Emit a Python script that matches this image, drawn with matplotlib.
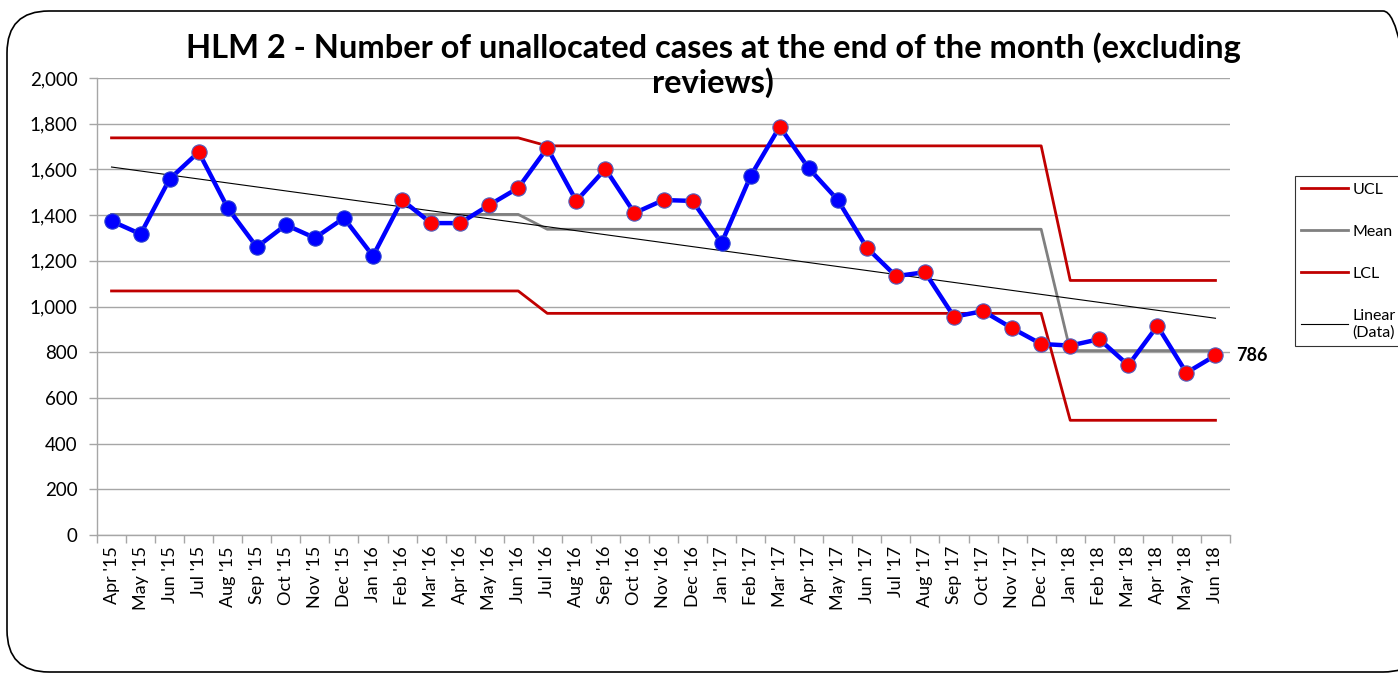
import matplotlib
matplotlib.use('Agg')
import matplotlib.pyplot as plt
import numpy as np
from matplotlib.patches import FancyBboxPatch
from matplotlib.lines import Line2D

months = ["Apr '15", "May '15", "Jun '15", "Jul '15", "Aug '15", "Sep '15", "Oct '15",
          "Nov '15", "Dec '15", "Jan '16", "Feb '16", "Mar '16", "Apr '16", "May '16",
          "Jun '16", "Jul '16", "Aug '16", "Sep '16", "Oct '16", "Nov '16", "Dec '16",
          "Jan '17", "Feb '17", "Mar '17", "Apr '17", "May '17", "Jun '17", "Jul '17",
          "Aug '17", "Sep '17", "Oct '17", "Nov '17", "Dec '17", "Jan '18", "Feb '18",
          "Mar '18", "Apr '18", "May '18", "Jun '18"]

data = [1374, 1317, 1558, 1676, 1431, 1260, 1357, 1300, 1387, 1221, 1466, 1365, 1365,
        1444, 1519, 1694, 1462, 1602, 1409, 1466, 1462, 1278, 1571, 1787, 1605, 1466,
        1257, 1133, 1150, 955, 980, 905, 836, 829, 857, 743, 915, 710, 786]

ucl = [1738] * 15 + [1703] * 18 + [1114] * 6
mean = [1403] * 15 + [1338] * 18 + [807] * 6
lcl = [1068] * 15 + [970] * 18 + [502] * 6

# 1 = flagged (red marker), 0 = normal (blue marker)
flagged = [0, 0, 0, 1, 0, 0, 0, 0, 0, 0, 1, 1, 1, 1, 1, 1, 1, 1, 1, 1, 1,
           0, 0, 1, 0, 0, 1, 1, 1, 1, 1, 1, 1, 1, 1, 1, 1, 1, 1]

title = "HLM 2 - Number of unallocated cases at the end of the month (excluding\nreviews)"
last_label = "786"

plt.rcParams['font.family'] = ['Lato', 'DejaVu Sans']

W, H = 1398, 675
fig = plt.figure(figsize=(W / 100, H / 100), dpi=100)

# chart area border
border = FancyBboxPatch((7 / W, 3 / H), (W + 20) / W, (H - 14) / H,
                        boxstyle="round,pad=0,rounding_size=0.03",
                        transform=fig.transFigure, facecolor='none',
                        edgecolor='black', linewidth=1.2, mutation_aspect=W / H,
                        zorder=-1)
fig.patches.append(border)

left, right, top, bottom = 97, 1230, 78, 535
ax = fig.add_axes([left / W, 1 - bottom / H, (right - left) / W, (bottom - top) / H])
ax.set_facecolor('none')

x = np.arange(len(data))

ax.plot(x, ucl, color='#C00000', lw=2.0, zorder=2)
ax.plot(x, lcl, color='#C00000', lw=2.0, zorder=2)
ax.plot(x, mean, color='#808080', lw=2.0, zorder=2)

coef = np.polyfit(x, data, 1)
trend = np.polyval(coef, x)
ax.plot(x, trend, color='black', lw=0.8, zorder=2)

ax.plot(x, data, color='#0000FF', lw=3.2, zorder=3)
fl = np.array(flagged, bool)
d = np.array(data)
ax.plot(x[~fl], d[~fl], 'o', ms=11, color='#0000FF', mec='#2A3FD0', mew=0.8, zorder=4)
ax.plot(x[fl], d[fl], 'o', ms=11, color='#FF0000', mec='#5060C0', mew=0.8, zorder=4)

ax.annotate(last_label, (x[-1], data[-1]), xytext=(15, 0), textcoords='offset points',
            fontsize=13, fontweight='bold', va='center', ha='left')

ax.set_xlim(-0.5, len(data) - 0.5)
ax.set_ylim(0, 2000)
ax.set_yticks(range(0, 2001, 200))
ax.set_yticklabels([f"{v:,}" for v in range(0, 2001, 200)], fontsize=13.5)
ax.yaxis.grid(True, color='#A6A6A6', lw=1.0)
ax.set_axisbelow(True)

ax.set_xticks(x)
ax.set_xticklabels(months, rotation=90, fontsize=13)
ax.set_xticks(np.arange(-0.5, len(data), 1.0), minor=True)
ax.tick_params(axis='x', which='major', length=0, pad=8)
ax.tick_params(axis='x', which='minor', length=6, color='#A6A6A6', width=1)
ax.tick_params(axis='y', length=6, color='#A6A6A6', width=1, pad=8)

for s in ['top', 'right']:
    ax.spines[s].set_visible(False)
for s in ['left', 'bottom']:
    ax.spines[s].set_color('#A6A6A6')
    ax.spines[s].set_linewidth(1)

fig.text(713 / W, 1 - 65 / H, title, ha='center', va='center', fontsize=23.5,
         fontweight='bold', linespacing=1.15)

handles = [Line2D([], [], color='#C00000', lw=2.0),
           Line2D([], [], color='#808080', lw=2.0),
           Line2D([], [], color='#C00000', lw=2.0),
           Line2D([], [], color='black', lw=0.8)]
labels = ['UCL', 'Mean', 'LCL', 'Linear\n(Data)']
leg = fig.legend(handles, labels, loc='upper left',
                 bbox_to_anchor=(1295 / W, 1 - 176 / H), fontsize=11.5,
                 frameon=True, fancybox=False, edgecolor='black', handlelength=2.9,
                 handletextpad=0.3, labelspacing=1.75, borderpad=0.4, borderaxespad=0)
leg.get_frame().set_linewidth(0.8)

fig.savefig('out.png', dpi=100)
